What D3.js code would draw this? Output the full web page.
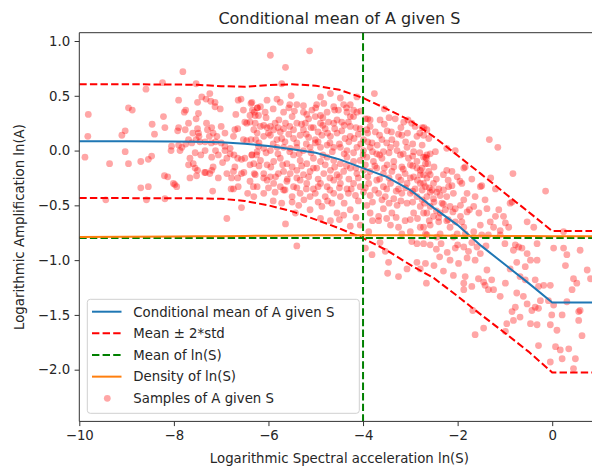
<!DOCTYPE html>
<html>
<head>
<meta charset="utf-8">
<script src="https://cdn.jsdelivr.net/npm/d3@7"></script>
<style>
  body { margin: 0; background: #fff; }
  svg { display: block; }
  text { font-family: "DejaVu Sans", sans-serif; fill: #262626; }
</style>
</head>
<body>
<svg id="chart" width="592" height="471"></svg>
<script>
// ---- data ----
const gridS = [-10, -9, -8, -7.5, -7, -6.5, -6, -5.5, -5, -4.5, -4, -3.5, -3, -2.5, -2, -1.5, -1, -0.5, 0, 0.5, 1];
const condMean = [0.085, 0.085, 0.083, 0.08, 0.075, 0.062, 0.042, 0.012, -0.02, -0.08, -0.16, -0.24, -0.36, -0.525, -0.68, -0.87, -1.04, -1.21, -1.386, -1.386, -1.386];
const upperBand = [0.605, 0.605, 0.603, 0.600, 0.588, 0.582, 0.598, 0.605, 0.592, 0.555, 0.48, 0.38, 0.274, 0.125, -0.045, -0.215, -0.39, -0.56, -0.735, -0.735, -0.735];
const lowerBand = [-0.434, -0.434, -0.435, -0.436, -0.44, -0.46, -0.50, -0.555, -0.63, -0.71, -0.80, -0.91, -1.044, -1.165, -1.33, -1.50, -1.665, -1.835, -2.025, -2.025, -2.025];
const densityLnS = [-0.788, -0.787, -0.785, -0.783, -0.781, -0.779, -0.777, -0.775, -0.774, -0.773, -0.772, -0.773, -0.774, -0.776, -0.777, -0.778, -0.779, -0.780, -0.781, -0.781, -0.781];
const meanLnS = -4;
const meanLevelA = -0.797;

const xTicks = [-10, -8, -6, -4, -2, 0];
const yTicks = [-2.0, -1.5, -1.0, -0.5, 0.0, 0.5, 1.0];

const legendLabels = ["Conditional mean of A given S", "Mean \u00b1 2*std", "Mean of ln(S)", "Density of ln(S)", "Samples of A given S"];

// samples: [ln(S), ln(A)]
const samples = [
[-7.81,0.72],[-8.24,0.62],[-7.53,0.61],[-8.59,0.56],[-7.90,0.46],[-7.50,0.44],[-7.41,0.49],[-7.32,0.47],[-7.24,0.52],[-7.13,0.44],[-7.02,0.38],[-7.13,0.40],[-7.22,0.45],[-8.96,0.39],[-8.88,0.37],[-9.81,0.33],[-8.22,0.31],[-7.75,0.37],[-7.78,0.35],[-7.48,0.34],[-7.53,0.29],[-7.69,0.25],[-8.46,0.24],[-8.19,0.21],[-7.90,0.21],[-7.92,0.18],[-7.76,0.19],[-7.60,0.16],[-7.47,0.13],[-7.50,0.20],[-7.31,0.25],[-7.29,0.19],[-7.20,0.21],[-7.17,0.16],[-7.25,0.13],[-7.00,0.22],[-6.92,0.16],[-7.09,0.13],[-9.03,0.18],[-9.10,0.14],[-9.82,0.13],[-8.41,0.15],[-8.05,0.04],[-8.06,0.00],[-7.90,0.05],[-7.83,0.03],[-7.87,0.00],[-7.75,0.06],[-7.69,0.10],[-7.62,0.07],[-7.53,0.10],[-7.45,0.08],[-7.48,0.16],[-7.34,0.08],[-7.21,0.07],[-7.12,0.08],[-7.00,0.07],[-6.92,0.04],[-6.92,0.00],[-6.81,0.02],[-6.74,0.13],[-6.71,0.19],[-6.65,0.20],[-6.64,0.46],[-6.58,0.47],[-6.69,0.33],[-6.53,0.37],[-6.46,0.25],[-6.50,0.26],[-6.39,0.26],[-6.37,0.43],[-6.34,0.37],[-6.28,0.32],[-6.23,0.39],[-6.53,0.10],[-6.46,0.09],[-6.37,0.10],[-6.27,0.10],[-6.21,0.04],[-6.35,-0.04],[-6.50,-0.07],[-6.57,-0.08],[-6.65,-0.07],[-6.73,-0.04],[-6.81,-0.03],[-6.88,-0.07],[-6.97,-0.11],[-7.06,-0.04],[-7.12,0.00],[-7.20,-0.06],[-7.34,0.00],[-7.43,-0.04],[-7.55,-0.02],[-7.66,-0.07],[-7.69,-0.13],[-7.59,-0.12],[-7.55,-0.16],[-7.50,-0.18],[-7.35,-0.20],[-7.33,-0.20],[-7.20,-0.18],[-7.17,-0.15],[-7.24,-0.21],[-7.06,-0.25],[-6.88,-0.21],[-6.78,-0.25],[-6.71,-0.15],[-6.74,-0.19],[-6.65,-0.25],[-6.64,-0.33],[-6.57,-0.21],[-6.52,-0.20],[-6.39,-0.13],[-6.32,-0.33],[-6.30,-0.21],[-6.25,-0.04],[-6.44,-0.39],[-6.57,-0.52],[-6.88,-0.62],[-6.74,-0.35],[-6.79,-0.35],[-7.18,-0.37],[-7.52,-0.23],[-7.66,-0.25],[-7.94,-0.33],[-7.98,-0.31],[-8.01,-0.30],[-8.13,-0.24],[-8.20,-0.23],[-8.19,-0.44],[-8.58,-0.45],[-8.54,-0.33],[-8.70,-0.34],[-8.47,-0.05],[-8.54,-0.08],[-8.70,-0.10],[-8.96,-0.12],[-9.03,-0.01],[-9.36,-0.12],[-9.88,-0.06],[-9.44,-0.45],
[-5.96,0.87],[-5.13,0.91],[-5.64,0.76],[-5.72,0.61],[-3.76,0.52],[-4.69,0.52],[-4.90,0.49],[-5.52,0.50],[-6.03,0.46],[-5.82,0.47],[-5.75,0.44],[-5.40,0.42],[-5.26,0.41],[-5.55,0.42],[-4.98,0.42],[-4.83,0.43],[-4.48,0.48],[-4.41,0.42],[-4.27,0.42],[-4.20,0.37],[-4.13,0.49],[-6.35,0.44],[-6.24,0.39],[-6.17,0.40],[-6.30,0.35],[-6.39,0.32],[-6.21,0.32],[-6.07,0.35],[-5.68,0.35],[-5.57,0.39],[-5.26,0.35],[-5.19,0.33],[-5.08,0.37],[-5.01,0.31],[-4.90,0.32],[-4.76,0.35],[-4.62,0.40],[-4.52,0.37],[-4.34,0.35],[-4.27,0.31],[-4.13,0.35],[-3.95,0.29],[-3.85,0.28],[-3.64,0.28],[-3.32,0.29],[-3.14,0.26],[-2.97,0.25],[-3.49,0.18],[-3.74,0.17],[-3.92,0.19],[-4.06,0.20],[-4.27,0.22],[-4.31,0.26],[-4.45,0.26],[-4.62,0.25],[-4.73,0.26],[-4.80,0.20],[-4.90,0.25],[-5.05,0.21],[-5.22,0.25],[-5.26,0.19],[-5.40,0.25],[-5.47,0.19],[-5.64,0.25],[-5.68,0.20],[-5.86,0.25],[-5.89,0.19],[-5.96,0.22],[-6.03,0.21],[-6.17,0.22],[-6.28,0.25],[-6.31,0.19],[-6.24,0.16],[-6.10,0.13],[-5.96,0.14],[-5.82,0.10],[-5.72,0.11],[-5.57,0.15],[-5.47,0.11],[-5.33,0.14],[-5.15,0.12],[-5.01,0.10],[-4.87,0.14],[-4.69,0.13],[-4.55,0.16],[-4.38,0.11],[-4.27,0.13],[-4.19,0.11],[-3.99,0.10],[-3.81,0.07],[-3.60,0.10],[-3.39,0.10],[-3.18,0.14],[-3.06,0.16],[-2.86,0.13],[-2.72,0.14],[-2.65,0.19],[-3.07,0.03],[-2.93,-0.01],[-2.72,-0.06],[-2.58,-0.03],[-2.86,-0.10],[-3.04,-0.07],[-3.21,-0.04],[-3.28,0.00],[-3.42,0.03],[-3.57,-0.01],[-3.71,-0.03],[-3.85,0.03],[-3.99,0.00],[-4.13,0.03],[-4.34,0.00],[-4.48,0.03],[-4.62,0.03],[-4.76,0.05],[-4.90,0.03],[-5.01,0.07],[-5.12,0.03],[-5.26,0.00],[-5.40,0.03],[-5.54,0.02],[-5.68,0.03],[-5.82,0.03],[-5.96,0.00],[-6.10,0.02],[-6.24,-0.01],[-6.35,-0.04],[-6.31,-0.12],[-6.17,-0.09],[-6.03,-0.13],[-5.89,-0.10],[-5.75,-0.07],[-5.61,-0.12],[-5.47,-0.04],[-5.33,-0.09],[-5.19,-0.12],[-5.05,-0.07],[-4.90,-0.10],[-4.76,-0.06],[-4.62,-0.09],[-4.48,-0.12],[-4.34,-0.06],[-4.20,-0.10],[-4.06,-0.09],[-3.92,-0.06],[-3.78,-0.10],[-3.60,-0.07],[-3.49,-0.13],[-3.35,-0.10],[-3.18,-0.15],[-3.00,-0.13],[-2.86,-0.16],[-2.68,-0.12],[-2.61,-0.19],[-2.79,-0.22],[-2.93,-0.24],[-3.11,-0.21],[-3.25,-0.24],[-3.39,-0.19],[-3.57,-0.21],[-3.71,-0.16],[-3.85,-0.19],[-3.99,-0.18],[-4.13,-0.21],[-4.27,-0.16],[-4.41,-0.19],[-4.55,-0.22],[-4.69,-0.18],[-4.83,-0.21],[-4.98,-0.16],[-5.12,-0.19],[-5.26,-0.22],[-5.40,-0.18],[-5.54,-0.21],[-5.68,-0.19],[-5.79,-0.21],[-5.96,-0.24],[-6.10,-0.21],[-6.28,-0.22],[-6.39,-0.28],[-6.24,-0.33],[-6.03,-0.27],[-5.89,-0.30],[-5.75,-0.33],[-5.61,-0.28],[-5.47,-0.33],[-5.33,-0.27],[-5.19,-0.30],[-5.05,-0.35],[-4.90,-0.30],[-4.76,-0.33],[-4.62,-0.27],[-4.48,-0.30],[-4.34,-0.35],[-4.20,-0.30],[-4.06,-0.33],[-3.88,-0.30],[-3.71,-0.27],[-3.57,-0.33],[-3.42,-0.30],[-3.25,-0.35],[-3.07,-0.30],[-2.90,-0.35],[-2.72,-0.30],[-2.58,-0.38],[-2.86,-0.42],[-3.00,-0.39],[-3.18,-0.39],[-3.35,-0.44],[-3.53,-0.42],[-3.67,-0.39],[-3.85,-0.41],[-3.99,-0.38],[-4.16,-0.41],[-4.31,-0.39],[-4.48,-0.42],[-4.62,-0.39],[-4.80,-0.42],[-5.01,-0.39],[-5.12,-0.42],[-5.33,-0.39],[-5.50,-0.42],[-5.68,-0.36],[-5.86,-0.38],[-6.10,-0.39],[-6.31,-0.42],[-5.72,-0.48],[-5.36,-0.50],[-5.12,-0.54],[-4.87,-0.51],[-4.66,-0.48],[-4.55,-0.57],[-4.41,-0.59],[-4.27,-0.54],[-3.92,-0.50],[-3.85,-0.57],[-3.67,-0.60],[-3.57,-0.53],[-3.39,-0.57],[-3.28,-0.50],[-3.07,-0.48],[-2.93,-0.57],[-2.79,-0.51],[-2.65,-0.57],[-3.11,-0.64],[-3.25,-0.70],[-3.00,-0.74],[-2.79,-0.70],[-2.68,-0.76],[-3.18,-0.76],[-5.64,-0.67],[-5.43,-0.57],[-4.69,-0.64],[-4.27,-0.69],[-4.06,-0.68],[-3.88,-0.74],[-3.42,-0.68],[-3.67,-0.64],
[-1.33,0.10],[-1.15,0.03],[-0.83,-0.21],[-0.14,-0.37],[-2.75,0.21],[-2.71,0.21],[-2.61,0.11],[-2.23,0.02],[-2.05,0.00],[-2.47,-0.01],[-2.68,-0.06],[-2.63,-0.12],[-2.66,-0.07],[-2.79,-0.18],[-2.72,-0.22],[-2.58,-0.22],[-2.79,-0.30],[-2.68,-0.33],[-2.51,-0.30],[-2.54,-0.36],[-2.44,-0.38],[-2.37,-0.41],[-2.30,-0.36],[-2.19,-0.33],[-2.12,-0.32],[-2.09,-0.39],[-2.23,-0.42],[-2.33,-0.48],[-2.51,-0.44],[-2.65,-0.42],[-2.75,-0.45],[-2.58,-0.51],[-2.72,-0.57],[-2.51,-0.60],[-2.37,-0.57],[-2.26,-0.54],[-2.16,-0.51],[-2.05,-0.53],[-1.94,-0.50],[-1.87,-0.45],[-1.80,-0.39],[-1.91,-0.30],[-2.01,-0.24],[-2.12,-0.19],[-2.23,-0.18],[-2.30,-0.22],[-1.87,-0.16],[-1.84,-0.15],[-1.52,-0.33],[-1.49,-0.32],[-1.63,-0.42],[-1.42,-0.45],[-1.38,-0.53],[-1.66,-0.51],[-1.80,-0.56],[-1.94,-0.60],[-2.05,-0.65],[-2.23,-0.64],[-2.40,-0.65],[-2.58,-0.68],[-2.72,-0.70],[-2.16,-0.70],[-1.91,-0.65],[-1.87,-0.70],[-1.52,-0.68],[-1.31,-0.65],[-1.20,-0.60],[-1.13,-0.54],[-0.89,-0.48],[-0.85,-0.47],[-1.03,-0.60],[-0.99,-0.66],[-0.92,-0.70],[-1.10,-0.73],[-1.24,-0.70],[-1.35,-0.77],[-1.49,-0.77],[-1.66,-0.74],[-1.84,-0.76],[-2.01,-0.76],[-1.10,-0.77],[-0.53,-0.65],[-0.39,-0.70],[-1.30,-0.25],[-1.20,-0.35],[-2.09,-0.79],[-2.44,-0.79],[0.24,-0.74],[-2.37,-0.76],[-2.65,-0.77],
[-2.05,-0.89],[-1.87,-0.88],[-1.77,-0.92],[-1.59,-0.88],[-1.52,-0.94],[-1.63,-1.00],[-1.80,-0.98],[-1.98,-1.03],[-2.16,-1.00],[-2.09,-1.14],[-1.84,-1.15],[-1.87,-1.21],[-1.87,-1.27],[-1.70,-1.24],[-1.56,-1.17],[-1.45,-1.20],[-1.38,-1.09],[-1.28,-1.18],[-1.24,-1.27],[-1.35,-1.27],[-1.42,-1.23],[-1.10,-1.33],[-0.99,-1.21],[-0.89,-1.08],[-0.75,-1.02],[-0.82,-0.91],[-0.71,-0.88],[-0.64,-0.89],[-0.53,-0.94],[-0.46,-1.00],[-0.57,-1.06],[-0.68,-1.15],[-0.57,-1.18],[-0.36,-1.18],[-0.29,-1.24],[-0.25,-1.37],[-0.36,-1.43],[-0.43,-1.46],[-0.53,-1.40],[-0.61,-1.33],[-0.75,-1.30],[-0.78,-1.43],[-0.68,-1.52],[-0.82,-1.55],[-0.96,-1.58],[-0.99,-1.65],[-1.45,-1.62],[-1.63,-1.68],[-1.68,-1.46],[-0.85,-1.47],[-0.46,-1.58],[-0.32,-1.59],[-0.29,-1.78],[-0.04,-1.59],[-0.01,-1.50],[0.03,-1.41],[-0.04,-1.23],[-0.08,-1.37],[0.03,-0.89],[0.28,-1.05],[0.31,-0.95],[0.45,-1.17],[0.52,-1.21],[0.42,-1.27],[0.31,-1.38],[0.21,-1.50],[0.10,-1.64],[0.07,-1.79],[0.17,-1.82],[0.35,-1.81],[0.21,-1.90],[-0.04,-1.93],[0.49,-1.90],[0.45,-1.99],[0.56,-1.47],[0.59,-1.46],[0.63,-1.69],[0.74,-1.09],[0.81,-1.17],[0.59,-0.91],[0.24,-0.89],[-0.32,-0.85],[-0.78,-0.86],[-0.32,-1.00],[-0.18,-1.23],[-0.29,-1.44],[0.56,-1.55],
[-5.40,-0.87],[-3.95,-0.89],[-3.81,-0.95],[-3.64,-0.84],[-3.53,-0.92],[-3.46,-1.02],[-3.48,-1.12],[-3.25,-1.15],[-3.07,-1.08],[-2.86,-1.02],[-2.79,-1.08],[-2.68,-1.03],[-2.66,-1.21],[-2.86,-0.85],[-2.72,-0.85],[-2.58,-0.86],[-2.97,-0.83],
[-2.45,-0.90],[-2.38,-0.97],[-2.30,-1.10],[-2.22,-0.93],[-2.50,-1.05],
[-5.90,0.38],[-5.45,0.36],[-5.00,0.39],[-4.60,0.37],[-4.35,0.39],[-4.05,0.36],[-3.55,0.38],
[-6.05,0.30],[-5.78,0.28],[-5.50,0.31],[-5.15,0.29],[-4.85,0.30],[-4.55,0.28],[-4.20,0.31],[-3.90,0.29],[-3.45,0.30],[-3.05,0.28],
[-6.10,0.23],[-5.80,0.21],[-5.55,0.22],[-5.30,0.24],[-5.10,0.21],[-4.85,0.23],[-4.60,0.20],[-4.40,0.23],[-4.15,0.21],[-3.85,0.22],[-3.55,0.24],[-3.20,0.21],[-2.90,0.22],
[-6.00,0.16],[-5.75,0.17],[-5.20,0.15],[-4.95,0.17],[-4.75,0.16],[-4.45,0.18],[-4.10,0.15],[-3.90,0.16],[-3.65,0.14],[-3.40,0.17],[-3.25,0.15],[-2.80,0.16],
[-6.20,0.07],[-5.90,0.06],[-5.65,0.08],[-5.40,0.07],[-5.20,0.06],[-4.95,0.08],[-4.70,0.07],[-4.50,0.06],[-4.30,0.08],[-4.05,0.06],[-3.90,0.08],[-3.70,0.05],[-3.50,0.07],[-3.30,0.06],[-3.10,0.08],[-2.95,0.06],[-2.75,0.05],
[-6.05,-0.02],[-5.80,-0.03],[-5.55,-0.01],[-5.35,-0.03],[-5.10,-0.02],[-4.85,-0.04],[-4.65,-0.01],[-4.40,-0.03],[-4.20,-0.02],[-4.00,-0.04],[-3.80,-0.01],[-3.65,-0.04],[-3.45,-0.02],[-3.15,-0.03],[-2.95,-0.05],[-2.80,-0.02],[-2.65,-0.04],
[-6.20,-0.14],[-5.95,-0.15],[-5.70,-0.13],[-5.50,-0.15],[-5.30,-0.14],[-5.05,-0.16],[-4.80,-0.13],[-4.60,-0.15],[-4.35,-0.14],[-4.15,-0.16],[-3.95,-0.13],[-3.75,-0.14],[-3.55,-0.16],[-3.35,-0.15],[-3.15,-0.17],[-2.95,-0.14],[-2.75,-0.16],[-2.50,-0.15],
[-6.10,-0.25],[-5.85,-0.24],[-5.60,-0.26],[-5.40,-0.25],[-5.15,-0.24],[-4.95,-0.26],[-4.70,-0.25],[-4.50,-0.24],[-4.30,-0.26],[-4.10,-0.25],[-3.90,-0.24],[-3.65,-0.26],[-3.45,-0.25],[-3.20,-0.27],[-3.00,-0.25],[-2.85,-0.27],[-2.65,-0.25],[-2.45,-0.26],
[-6.00,-0.34],[-5.65,-0.36],[-5.40,-0.34],[-5.20,-0.35],[-4.95,-0.33],[-4.70,-0.36],[-4.50,-0.34],[-4.25,-0.35],[-3.95,-0.34],[-3.75,-0.36],[-3.50,-0.35],[-3.30,-0.37],[-3.10,-0.34],[-2.95,-0.37],[-2.75,-0.36],[-2.60,-0.34],[-2.40,-0.35],
[-5.90,-0.46],[-5.50,-0.47],[-5.25,-0.45],[-4.95,-0.47],[-4.75,-0.46],[-4.40,-0.48],[-4.10,-0.46],[-3.80,-0.47],[-3.60,-0.45],[-3.45,-0.48],[-3.20,-0.46],[-2.95,-0.47],[-2.70,-0.48],[-2.50,-0.47],[-2.30,-0.49],
[-4.90,-0.62],[-4.50,-0.63],[-4.15,-0.61],[-3.80,-0.64],[-3.50,-0.62],[-3.30,-0.61],[-3.00,-0.63],[-2.85,-0.62],[-2.60,-0.64],[-2.40,-0.61],[-2.20,-0.63],
[-2.20,-0.27],[-1.95,-0.28],[-1.70,-0.26],
[-2.45,-0.55],[-2.10,-0.56],[-1.75,-0.54],[-1.55,-0.57],
[-2.35,-0.85],[-2.00,-0.86],[-1.70,-0.84],[-1.40,-0.87],[-1.00,-0.85]
];

// ---- layout ----
const svg = d3.select("#chart");
const plot = { left: 79.3, top: 32.7, bottom: 421.4, right: 599.5 };

const x = d3.scaleLinear().domain([-10, 1]).range([plot.left, plot.right]);
const y = d3.scaleLinear().domain([-2.472, 1.0758]).range([plot.bottom, plot.top]);

const lw = 2;
const dash = "7.4,3.2";
const fmtMinus = s => s.replace("-", "\u2212");

svg.append("defs").append("clipPath").attr("id", "plotClip")
  .append("rect")
  .attr("x", plot.left).attr("y", plot.top)
  .attr("width", plot.right - plot.left).attr("height", plot.bottom - plot.top);

const area = svg.append("g").attr("clip-path", "url(#plotClip)");

// samples (drawn beneath the lines)
area.append("g").selectAll("circle")
  .data(samples)
  .join("circle")
  .attr("cx", d => x(d[0]))
  .attr("cy", d => y(d[1]))
  .attr("r", 3.4)
  .attr("fill", "#ff0000")
  .attr("fill-opacity", 0.35);

const lineOf = vals => d3.line()
  .x((d, i) => x(gridS[i]))
  .y(d => y(d))(vals);

area.append("path").attr("d", lineOf(condMean))
  .attr("fill", "none").attr("stroke", "#1f77b4").attr("stroke-width", lw);

area.append("path").attr("d", lineOf(upperBand))
  .attr("fill", "none").attr("stroke", "#ff0000").attr("stroke-width", lw)
  .attr("stroke-dasharray", dash);
area.append("path").attr("d", lineOf(lowerBand))
  .attr("fill", "none").attr("stroke", "#ff0000").attr("stroke-width", lw)
  .attr("stroke-dasharray", dash);

// mean of ln(S): vertical and horizontal reference lines
area.append("line")
  .attr("x1", x(meanLnS)).attr("x2", x(meanLnS))
  .attr("y1", plot.top).attr("y2", plot.bottom)
  .attr("stroke", "#008000").attr("stroke-width", lw).attr("stroke-dasharray", dash);
area.append("line")
  .attr("x1", plot.left).attr("x2", plot.right)
  .attr("y1", y(meanLevelA)).attr("y2", y(meanLevelA))
  .attr("stroke", "#008000").attr("stroke-width", lw).attr("stroke-dasharray", dash);

area.append("path").attr("d", lineOf(densityLnS))
  .attr("fill", "none").attr("stroke", "#ff7f0e").attr("stroke-width", lw);

// ---- axes ----
const xAxis = d3.axisBottom(x).tickValues(xTicks).tickSize(4.7).tickPadding(4.5)
  .tickFormat(d => fmtMinus(d3.format("d")(d)));
const yAxis = d3.axisLeft(y).tickValues(yTicks).tickSize(4.7).tickPadding(4.5)
  .tickFormat(d => fmtMinus(d3.format(".1f")(d)));

const gx = svg.append("g").attr("transform", `translate(0,${plot.bottom})`).call(xAxis);
const gy = svg.append("g").attr("transform", `translate(${plot.left},0)`).call(yAxis);
[gx, gy].forEach(g => {
  g.select(".domain").remove();
  g.selectAll(".tick line").attr("stroke", "#333").attr("stroke-width", 1);
  g.selectAll(".tick text").attr("font-size", 13.3).attr("fill", "#262626")
    .attr("font-family", "DejaVu Sans, sans-serif");
});

// spines
const spine = (x1, y1, x2, y2) => svg.append("line")
  .attr("x1", x1).attr("y1", y1).attr("x2", x2).attr("y2", y2)
  .attr("stroke", "#333").attr("stroke-width", 1);
spine(plot.left, plot.top, plot.left, plot.bottom);
spine(plot.left, plot.bottom, plot.right, plot.bottom);
spine(plot.left, plot.top, plot.right, plot.top);
spine(plot.right, plot.top, plot.right, plot.bottom);

// titles
const cx = (plot.left + plot.right) / 2;
svg.append("text").attr("x", cx).attr("y", 24).attr("text-anchor", "middle")
  .attr("font-size", 16).text("Conditional mean of A given S");
svg.append("text").attr("x", cx).attr("y", 463).attr("text-anchor", "middle")
  .attr("font-size", 13.3).text("Logarithmic Spectral acceleration ln(S)");
svg.append("text")
  .attr("transform", `translate(24,${(plot.top + plot.bottom) / 2}) rotate(-90)`)
  .attr("text-anchor", "middle").attr("font-size", 13.3)
  .text("Logarithmic Amplification ln(A)");

// ---- legend ----
const lg = svg.append("g");
lg.append("rect")
  .attr("x", 87.3).attr("y", 299.3).attr("width", 272).attr("height", 114)
  .attr("rx", 3).attr("fill", "#fff").attr("fill-opacity", 0.8)
  .attr("stroke", "#d0d0d0").attr("stroke-width", 1);

const rowY = i => 311.7 + i * 21.65;
const handles = [
  { color: "#1f77b4", dash: null },
  { color: "#ff0000", dash: dash },
  { color: "#008000", dash: dash },
  { color: "#ff7f0e", dash: null },
  { color: "#ff0000", dot: true }
];
legendLabels.forEach((label, i) => {
  const h = handles[i];
  if (h.dot) {
    lg.append("circle").attr("cx", 107.3).attr("cy", rowY(i)).attr("r", 3.4)
      .attr("fill", h.color).attr("fill-opacity", 0.35);
  } else {
    const l = lg.append("line").attr("x1", 92).attr("x2", 121.5)
      .attr("y1", rowY(i)).attr("y2", rowY(i))
      .attr("stroke", h.color).attr("stroke-width", lw);
    if (h.dash) l.attr("stroke-dasharray", h.dash);
  }
  lg.append("text").attr("x", 133.3).attr("y", rowY(i) + 4.8)
    .attr("font-size", 13.3).text(label);
});
</script>
</body>
</html>
